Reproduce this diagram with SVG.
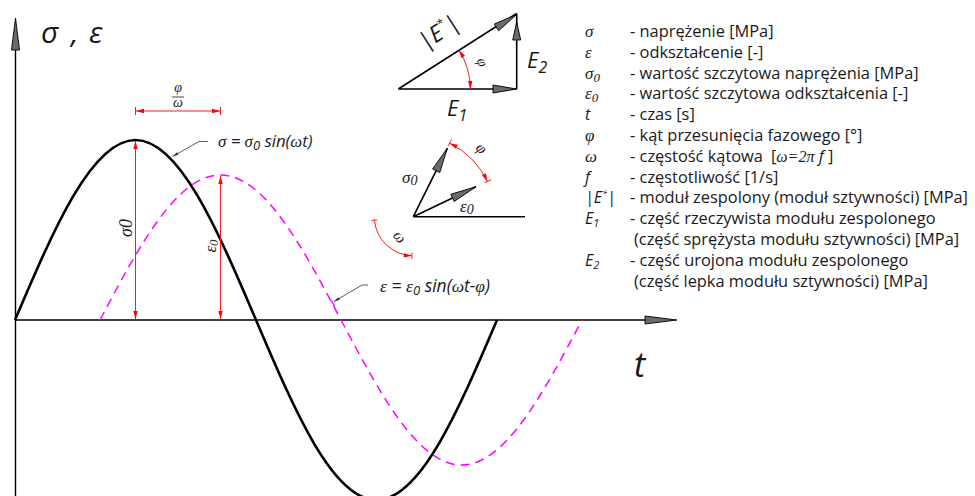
<svg xmlns="http://www.w3.org/2000/svg" width="975" height="496" viewBox="0 0 975 496">
<defs>
<marker id="ra" viewBox="-9 -3 10 6" refX="0" refY="0" markerWidth="10" markerHeight="6" markerUnits="userSpaceOnUse" orient="auto-start-reverse"><path d="M0,0 L-8,-2.2 L-8,2.2 Z" fill="#ff0000"/></marker>
<marker id="la" viewBox="-7 -2 8 4" refX="0" refY="0" markerWidth="8" markerHeight="4" markerUnits="userSpaceOnUse" orient="auto"><path d="M0,0 L-6,-1.5 L-6,1.5 Z" fill="#333"/></marker>
</defs>
<style>
.ax{stroke:#000;stroke-width:1.4;fill:none}
.gah{fill:#6a6a6a;stroke:#000;stroke-width:0.9}
.sig{fill:none;stroke:#000;stroke-width:2.6}
.eps{fill:none;stroke:#ff00ff;stroke-width:1.5;stroke-dasharray:9 6}
.dim{fill:none;stroke:#ff1a1a;stroke-width:1}
.ldr{fill:none;stroke:#333;stroke-width:0.8}
.vec{stroke:#000;stroke-width:1.6;fill:none}
.gr{font-family:"Liberation Serif","DejaVu Serif",serif;font-style:italic}
.it{font-family:"Open Sans","Liberation Sans",sans-serif;font-style:italic}
.lg{font-family:"Open Sans","Liberation Sans",sans-serif;font-size:16.4px;fill:#1a1a1a}
text{fill:#1a1a1a}
</style>

<g id="axes">
<path class="ax" d="M15.5,496 V40"/>
<polygon class="gah" points="15.5,18 11.5,50 19.5,50"/>
<path class="ax" d="M15,320 H650"/>
<polygon class="gah" points="677,320 645,316 645,324"/>
<text x="41" y="43" class="it" font-size="30"><tspan x="41">σ</tspan><tspan x="71">,</tspan><tspan x="89">ε</tspan></text>
<text x="634" y="377" class="it" font-size="34">t</text>
</g>

<g id="sigma-curve">
<path class="sig" d="M15,320 C54.28,227.84 92.02,140 135.5,140 C178.98,140 216.72,227.84 256,320 C295.28,412.16 333.02,500 376.5,500 C419.98,500 457.72,412.16 497,320"/>
</g>

<g id="epsilon-curve">
<path class="eps" d="M100,320 C139.28,245.76 177.02,175 220.5,175 C263.98,175 301.72,245.76 341,320 C380.28,394.24 418.02,465 461.5,465 C504.98,465 542.72,394.24 582,320"/>
</g>

<g id="dimensions">
<path class="dim" d="M135.5,141 V319" marker-start="url(#ra)" marker-end="url(#ra)"/>
<path class="dim" d="M220.5,176 V319" marker-start="url(#ra)" marker-end="url(#ra)"/>
<path class="dim" d="M136,111 H220" marker-start="url(#ra)" marker-end="url(#ra)"/>
<path class="dim" d="M135.5,107 V115 M220.5,107 V115"/>
<text x="178" y="91.5" class="gr" font-size="14" text-anchor="middle">φ</text>
<path d="M172,97 H184" stroke="#1a1a1a" stroke-width="0.8"/>
<text x="178" y="107" class="gr" font-size="14" text-anchor="middle">ω</text>
<text transform="translate(132,228) rotate(-90)" class="gr" font-size="18" text-anchor="middle">σ0</text>
<text transform="translate(215.5,246) rotate(-90)" class="gr" font-size="17" text-anchor="middle">ε<tspan font-size="13" dy="2">0</tspan></text>
</g>

<g id="connectors">
<path class="ldr" d="M208,141.5 H199 L172.5,156.5" marker-end="url(#la)"/>
<path class="ldr" d="M368,285 H362 L334,301.5" marker-end="url(#la)"/>
<path d="M331.5,300.5 L334.5,306" stroke="#ff00ff" stroke-width="1.5"/>
</g>

<g id="sigma-label">
<text x="218" y="147" font-size="16.8"><tspan class="gr">σ</tspan><tspan class="it"> = </tspan><tspan class="gr">σ</tspan><tspan class="it" font-size="13" dy="3">0</tspan><tspan class="it" dy="-3"> sin(</tspan><tspan class="gr">ω</tspan><tspan class="it">t)</tspan></text>
</g>
<g id="epsilon-label">
<text x="380" y="292" font-size="17.5"><tspan class="gr">ε</tspan><tspan class="it"> = </tspan><tspan class="gr">ε</tspan><tspan class="it" font-size="13" dy="3">0</tspan><tspan class="it" dy="-3"> sin(</tspan><tspan class="gr">ω</tspan><tspan class="it">t-</tspan><tspan class="gr">φ</tspan><tspan class="it">)</tspan></text>
</g>

<g id="modulus-triangle">
<path class="vec" d="M398.3,89 L516.7,13.5 M516.7,89 V13.5 M398.3,89 H516.7"/>
<polygon class="gah" points="516.7,14.5 498.6,30.8 494.3,24"/>
<polygon class="gah" points="516.7,22 512.7,40 520.7,40"/>
<polygon class="gah" points="516.7,89 493,85 493,93"/>
<path class="dim" d="M458.9,50.1 A72,72 0 0 1 470.3,89" marker-start="url(#ra)" marker-end="url(#ra)"/>
<text transform="translate(478,64) rotate(70)" class="gr" font-size="15" text-anchor="middle">φ</text>
<text transform="translate(443,38.7) rotate(-32.6)" class="it" font-size="23" text-anchor="middle">|E<tspan font-size="12" dy="-10">*</tspan><tspan dy="10">|</tspan></text>
<text x="527" y="68" class="it" font-size="22">E<tspan font-size="16" dy="5">2</tspan></text>
<text x="447" y="116" class="it" font-size="22">E<tspan font-size="16" dy="5">1</tspan></text>
</g>

<g id="phasor">
<path class="vec" d="M413.3,216.7 H525 M413.3,216.7 L447.3,148.3 M413.3,216.7 L476,186.7"/>
<polygon class="gah" points="447.3,148.3 439.8,172.5 432.6,168.9"/>
<polygon class="gah" points="476,186.7 454.2,201.5 450.8,194.3"/>
<path class="dim" d="M449.6,143.2 A82,82 0 0 1 487.4,181.5" marker-start="url(#ra)" marker-end="url(#ra)"/>
<path class="dim" d="M448.3,145.9 L451.4,139.6 M484.6,182.8 L491,179.8"/>
<path class="dim" d="M374.45,220.1 A39,39 0 0 0 411.9,255.7" marker-end="url(#ra)"/>
<path class="dim" d="M377.4,219.8 L371.5,220.4 M412,252.7 L411.8,258.7"/>
<text transform="translate(478,152) rotate(45)" class="gr" font-size="16" text-anchor="middle">φ</text>
<text transform="translate(396,240) rotate(50)" class="gr" font-size="16" text-anchor="middle">ω</text>
<text x="402" y="183" class="gr" font-size="17">σ<tspan font-size="14" dy="2">0</tspan></text>
<text x="460" y="212" class="gr" font-size="17">ε<tspan font-size="14" dy="2">0</tspan></text>
</g>

<g id="legend" class="lg">
<text x="585" y="37"><tspan class="gr" font-size="17">σ</tspan><tspan x="630">- naprężenie [MPa]</tspan></text>
<text x="585" y="57.8"><tspan class="gr" font-size="17">ε</tspan><tspan x="630">- odkształcenie [-]</tspan></text>
<text x="585" y="78.6"><tspan class="gr" font-size="17">σ</tspan><tspan class="gr" font-size="13" dy="3">0</tspan><tspan x="630" dy="-3">- wartość szczytowa naprężenia [MPa]</tspan></text>
<text x="585" y="99.4"><tspan class="gr" font-size="17">ε</tspan><tspan class="gr" font-size="13" dy="3">0</tspan><tspan x="630" dy="-3">- wartość szczytowa odkształcenia [-]</tspan></text>
<text x="585" y="120.2"><tspan class="it" font-size="16">t</tspan><tspan x="630">- czas [s]</tspan></text>
<text x="585" y="141"><tspan class="gr" font-size="17">φ</tspan><tspan x="630">- kąt przesunięcia fazowego [°]</tspan></text>
<text x="585" y="161.8"><tspan class="gr" font-size="17">ω</tspan><tspan x="630">- częstość kątowa</tspan><tspan dx="8">[</tspan><tspan class="gr" font-size="16">ω=2π</tspan><tspan class="it"> f</tspan><tspan> ]</tspan></text>
<text x="585" y="182.6"><tspan class="it" font-size="16">f</tspan><tspan x="630">- częstotliwość [1/s]</tspan></text>
<text x="585" y="203.4"><tspan class="it" font-size="16">|E</tspan><tspan class="it" font-size="9" dy="-6">*</tspan><tspan class="it" font-size="16" dy="6">|</tspan><tspan x="630">- moduł zespolony (moduł sztywności) [MPa]</tspan></text>
<text x="585" y="224.2"><tspan class="it" font-size="16">E</tspan><tspan class="it" font-size="11" dy="3">1</tspan><tspan x="630" dy="-3">- część rzeczywista modułu zespolonego</tspan></text>
<text x="634" y="245">(część sprężysta modułu sztywności) [MPa]</text>
<text x="585" y="265.8"><tspan class="it" font-size="16">E</tspan><tspan class="it" font-size="11" dy="3">2</tspan><tspan x="630" dy="-3">- część urojona modułu zespolonego</tspan></text>
<text x="634" y="286.6">(część lepka modułu sztywności) [MPa]</text>
</g>
</svg>
